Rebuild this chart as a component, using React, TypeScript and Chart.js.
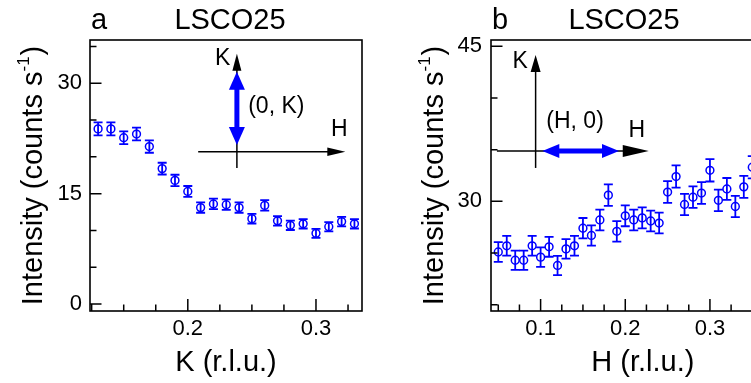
import React, { useEffect, useRef } from 'react';
import { Chart, registerables } from 'chart.js';

Chart.register(...registerables);

const FONT = '"Liberation Sans", Arial, Helvetica, sans-serif';
const BLUE = '#0000ff';

// ---------- Panel a : (0, K) cut ----------
const kValues = [0.13, 0.14, 0.15, 0.16, 0.17, 0.18, 0.19, 0.2, 0.21, 0.22, 0.23, 0.24, 0.25, 0.26, 0.27, 0.28, 0.29, 0.3, 0.31, 0.32, 0.33];
const intensityA = [23.8, 23.8, 22.6, 23.1, 21.4, 18.4, 16.8, 15.3, 13.1, 13.6, 13.5, 13.1, 11.6, 13.4, 11.3, 10.7, 10.9, 9.6, 10.5, 11.2, 10.9];
const errorA = [0.88, 0.88, 0.86, 0.87, 0.84, 0.8, 0.77, 0.74, 0.7, 0.71, 0.71, 0.7, 0.66, 0.71, 0.65, 0.64, 0.64, 0.6, 0.63, 0.65, 0.64];
const kTicks = [0.2, 0.3];
const kTickLabels = ['0.2', '0.3'];
const intensityTicksA = [0, 15, 30];
const intensityTickLabelsA = ['0', '15', '30'];

// ---------- Panel b : (H, 0) cut ----------
const hValues = [0.05, 0.06, 0.07, 0.08, 0.09, 0.1, 0.11, 0.12, 0.13, 0.14, 0.15, 0.16, 0.17, 0.18, 0.19, 0.2, 0.21, 0.22, 0.23, 0.24, 0.25, 0.26, 0.27, 0.28, 0.29, 0.3, 0.31, 0.32, 0.33, 0.34, 0.35];
const intensityB = [25.1, 25.7, 24.3, 24.3, 25.7, 24.6, 25.6, 23.8, 25.4, 25.7, 27.4, 26.7, 28.2, 30.6, 27.1, 28.6, 28.2, 28.4, 28.1, 27.9, 30.9, 32.4, 29.7, 30.4, 30.8, 33.0, 30.1, 31.2, 29.5, 31.4, 33.3];
const errorB = [0.95, 0.96, 0.94, 0.94, 0.96, 0.95, 0.96, 0.93, 0.95, 0.96, 0.99, 0.98, 1.0, 1.04, 0.99, 1.01, 1.0, 1.01, 1.0, 1.0, 1.05, 1.07, 1.03, 1.04, 1.05, 1.08, 1.04, 1.06, 1.03, 1.06, 1.08];
const hTicks = [0.1, 0.2, 0.3];
const hTickLabels = ['0.1', '0.2', '0.3'];
const intensityTicksB = [30, 45];
const intensityTickLabelsB = ['30', '45'];

type Arrow = { x0: number; y0: number; x1: number; y1: number; headLen: number; headHalf: number };
type Label = { text: string; x: number; y: number; align: CanvasTextAlign };
type Inset = {
  axisV: Arrow;
  axisH: Arrow;
  blue: { x0: number; y0: number; x1: number; y1: number; headLen: number; headHalf: number; width: number };
  labels: Label[];
};

type Panel = {
  letter: string;
  title: string;
  titleOffset: number;
  xTitle: string;
  xs: number[];
  ys: number[];
  errs: number[];
  xMin: number; xMax: number; yMin: number; yMax: number;
  xMajor: number[]; xLabels: string[];
  yMajor: number[]; yLabels: string[];
  xMinorStep: number; yMinorStep: number;
  left: number; width: number; yAxisWidth: number; padRight: number; yTickPad: number;
  inset: Inset;
};

const panels: Panel[] = [
  {
    letter: 'a', title: 'LSCO25', titleOffset: 140, xTitle: 'K (r.l.u.)',
    xs: kValues, ys: intensityA, errs: errorA,
    xMin: 0.1237, xMax: 0.3359, yMin: -0.95, yMax: 35.88,
    xMajor: kTicks, xLabels: kTickLabels, yMajor: intensityTicksA, yLabels: intensityTickLabelsA,
    xMinorStep: 0.025, yMinorStep: 5,
    left: 0, width: 375, yAxisWidth: 90, padRight: 13, yTickPad: 8,
    inset: {
      axisV: { x0: 0.2383, y0: 18.49, x1: 0.2383, y1: 34.0, headLen: 17, headHalf: 4.5 },
      axisH: { x0: 0.2081, y0: 20.7, x1: 0.3229, y1: 20.7, headLen: 18, headHalf: 4.2 },
      blue: { x0: 0.2383, y0: 21.61, x1: 0.2383, y1: 31.57, headLen: 18, headHalf: 8, width: 5 },
      labels: [
        { text: 'K', x: 0.2272, y: 33.3, align: 'center' },
        { text: '(0, K)', x: 0.2471, y: 26.78, align: 'left' },
        { text: 'H', x: 0.3182, y: 23.65, align: 'center' },
      ],
    },
  },
  {
    letter: 'b', title: 'LSCO25', titleOffset: 133, xTitle: 'H (r.l.u.)',
    xs: hValues, ys: intensityB, errs: errorB,
    xMin: 0.0414, xMax: 0.4, yMin: 19.39, yMax: 45.61,
    xMajor: hTicks, xLabels: hTickLabels, yMajor: intensityTicksB, yLabels: intensityTickLabelsB,
    xMinorStep: 0.025, yMinorStep: 5,
    left: 380, width: 420, yAxisWidth: 111, padRight: 3, yTickPad: 9,
    inset: {
      axisV: { x0: 0.0941, y0: 33.23, x1: 0.0941, y1: 44.16, headLen: 17, headHalf: 5 },
      axisH: { x0: 0.0484, y0: 34.87, x1: 0.2277, y1: 34.87, headLen: 26, headHalf: 6 },
      blue: { x0: 0.102, y0: 34.87, x1: 0.1926, y1: 34.87, headLen: 17, headHalf: 7, width: 5 },
      labels: [
        { text: 'K', x: 0.076, y: 43.5, align: 'center' },
        { text: '(H, 0)', x: 0.1067, y: 37.7, align: 'left' },
        { text: 'H', x: 0.2137, y: 36.85, align: 'center' },
      ],
    },
  },
];

function head(ctx: CanvasRenderingContext2D, tx: number, ty: number, dx: number, dy: number, len: number, half: number) {
  const n = Math.hypot(dx, dy) || 1;
  const ux = dx / n, uy = dy / n;
  const bx = tx - ux * len, by = ty - uy * len;
  ctx.beginPath();
  ctx.moveTo(tx, ty);
  ctx.lineTo(bx - uy * half, by + ux * half);
  ctx.lineTo(bx + uy * half, by - ux * half);
  ctx.closePath();
  ctx.fill();
}

function makeChart(canvas: HTMLCanvasElement, p: Panel) {
  const decor = {
    id: 'decor' + p.letter,
    beforeDatasetsDraw(chart: any) {
      const { ctx, chartArea: a } = chart;
      const xs = chart.scales.x, ys = chart.scales.y;
      // error bars
      ctx.save();
      ctx.beginPath();
      ctx.rect(a.left, a.top, a.right - a.left, a.bottom - a.top);
      ctx.clip();
      ctx.strokeStyle = BLUE;
      ctx.lineWidth = 1.8;
      p.xs.forEach((xv, i) => {
        const px = xs.getPixelForValue(xv);
        const yTop = ys.getPixelForValue(p.ys[i] + p.errs[i]);
        const yBot = ys.getPixelForValue(p.ys[i] - p.errs[i]);
        ctx.beginPath();
        ctx.moveTo(px, yTop); ctx.lineTo(px, yBot);
        ctx.moveTo(px - 4.5, yTop); ctx.lineTo(px + 4.5, yTop);
        ctx.moveTo(px - 4.5, yBot); ctx.lineTo(px + 4.5, yBot);
        ctx.stroke();
      });
      ctx.restore();
    },
    afterDatasetsDraw(chart: any) {
      const { ctx, chartArea: a } = chart;
      const xs = chart.scales.x, ys = chart.scales.y;
      const X = (v: number) => xs.getPixelForValue(v);
      const Y = (v: number) => ys.getPixelForValue(v);
      ctx.save();
      // frame
      ctx.strokeStyle = '#000';
      ctx.lineWidth = 1.6;
      ctx.strokeRect(a.left, a.top, a.right - a.left, a.bottom - a.top);
      // ticks (inward)
      ctx.lineWidth = 1.5;
      ctx.beginPath();
      const eps = 1e-6;
      for (let v = Math.ceil(p.xMin / p.xMinorStep) * p.xMinorStep; v <= p.xMax + eps; v += p.xMinorStep) {
        const major = p.xMajor.some((m) => Math.abs(m - v) < eps);
        const px = X(v);
        ctx.moveTo(px, a.bottom);
        ctx.lineTo(px, a.bottom - (major ? 12 : 6.5));
      }
      for (let v = Math.ceil(p.yMin / p.yMinorStep) * p.yMinorStep; v <= p.yMax + eps; v += p.yMinorStep) {
        const major = p.yMajor.some((m) => Math.abs(m - v) < eps);
        const py = Y(v);
        ctx.moveTo(a.left, py);
        ctx.lineTo(a.left + (major ? 11.5 : 6.5), py);
      }
      ctx.stroke();

      // inset sketch
      const ins = p.inset;
      ctx.fillStyle = '#000';
      ctx.lineWidth = 1.5;
      for (const ar of [ins.axisV, ins.axisH]) {
        const x0 = X(ar.x0), y0 = Y(ar.y0), x1 = X(ar.x1), y1 = Y(ar.y1);
        const n = Math.hypot(x1 - x0, y1 - y0);
        const ux = (x1 - x0) / n, uy = (y1 - y0) / n;
        ctx.beginPath();
        ctx.moveTo(x0, y0);
        ctx.lineTo(x1 - ux * ar.headLen * 0.8, y1 - uy * ar.headLen * 0.8);
        ctx.stroke();
        head(ctx, x1, y1, x1 - x0, y1 - y0, ar.headLen, ar.headHalf);
      }
      const b = ins.blue;
      const bx0 = X(b.x0), by0 = Y(b.y0), bx1 = X(b.x1), by1 = Y(b.y1);
      const bn = Math.hypot(bx1 - bx0, by1 - by0);
      const bux = (bx1 - bx0) / bn, buy = (by1 - by0) / bn;
      ctx.strokeStyle = BLUE;
      ctx.fillStyle = BLUE;
      ctx.lineWidth = b.width;
      ctx.beginPath();
      ctx.moveTo(bx0 + bux * b.headLen * 0.8, by0 + buy * b.headLen * 0.8);
      ctx.lineTo(bx1 - bux * b.headLen * 0.8, by1 - buy * b.headLen * 0.8);
      ctx.stroke();
      head(ctx, bx1, by1, bx1 - bx0, by1 - by0, b.headLen, b.headHalf);
      head(ctx, bx0, by0, bx0 - bx1, by0 - by1, b.headLen, b.headHalf);

      ctx.fillStyle = '#000';
      ctx.font = '23px ' + FONT;
      ctx.textBaseline = 'middle';
      for (const l of ins.labels) {
        ctx.textAlign = l.align;
        ctx.fillText(l.text, X(l.x), Y(l.y));
      }

      // panel letter and title
      ctx.font = '29px ' + FONT;
      ctx.textBaseline = 'alphabetic';
      ctx.textAlign = 'left';
      ctx.fillText(p.letter, a.left + 1, 28.5);
      ctx.textAlign = 'center';
      ctx.fillText(p.title, a.left + p.titleOffset, 28.5);

      // y-axis title with superscript
      const cx = a.left - 48.5;
      const cy = (a.top + a.bottom) / 2;
      ctx.translate(cx, cy);
      ctx.rotate(-Math.PI / 2);
      const main = 'Intensity (counts s';
      const sup = '-1';
      const close = ')';
      ctx.font = '29px ' + FONT;
      const wMain = ctx.measureText(main).width;
      const wClose = ctx.measureText(close).width;
      ctx.font = '17px ' + FONT;
      const wSup = ctx.measureText(sup).width;
      const total = wMain + wSup + wClose + 1;
      let x = -total / 2;
      ctx.textAlign = 'left';
      ctx.font = '29px ' + FONT;
      ctx.fillText(main, x, 0);
      x += wMain;
      ctx.font = '17px ' + FONT;
      ctx.fillText(sup, x, -13);
      x += wSup + 1;
      ctx.font = '29px ' + FONT;
      ctx.fillText(close, x, 0);
      ctx.restore();
    },
  };

  return new Chart(canvas, {
    type: 'scatter',
    data: {
      datasets: [
        {
          data: p.xs.map((x, i) => ({ x, y: p.ys[i] })),
          borderColor: BLUE,
          backgroundColor: 'rgba(0,0,0,0)',
          pointRadius: 3.9,
          pointHoverRadius: 3.9,
          pointBorderWidth: 1.5,
          showLine: false,
        },
      ],
    },
    options: {
      responsive: false,
      animation: false,
      events: [],
      layout: { padding: { top: 40, right: p.padRight, bottom: 0, left: 0 } },
      plugins: { legend: { display: false }, tooltip: { enabled: false }, title: { display: false } },
      scales: {
        x: {
          type: 'linear',
          min: p.xMin,
          max: p.xMax,
          grid: { display: false, drawTicks: false },
          border: { display: false },
          ticks: {
            padding: 5,
            color: '#000',
            font: { size: 22, family: FONT },
            maxRotation: 0,
            autoSkip: false,
            callback: (_v: any, i: number) => p.xLabels[i],
          },
          afterBuildTicks: (s: any) => {
            s.ticks = p.xMajor.map((value) => ({ value }));
          },
          afterFit: (s: any) => {
            s.height = 72;
          },
          title: {
            display: true,
            text: p.xTitle,
            color: '#000',
            font: { size: 29, family: FONT },
            padding: { top: 0, bottom: 2.6 },
          },
        },
        y: {
          type: 'linear',
          min: p.yMin,
          max: p.yMax,
          grid: { display: false, drawTicks: false },
          border: { display: false },
          ticks: {
            padding: p.yTickPad,
            color: '#000',
            font: { size: 22, family: FONT },
            autoSkip: false,
            callback: (_v: any, i: number) => p.yLabels[i],
          },
          afterBuildTicks: (s: any) => {
            s.ticks = p.yMajor.map((value) => ({ value }));
          },
          afterFit: (s: any) => {
            s.width = p.yAxisWidth;
          },
        },
      },
    },
    plugins: [decor],
  } as any);
}

function PanelCanvas({ panel }: { panel: Panel }) {
  const ref = useRef<HTMLCanvasElement | null>(null);
  useEffect(() => {
    if (!ref.current) return;
    const chart = makeChart(ref.current, panel);
    return () => chart.destroy();
  }, [panel]);
  return (
    <canvas
      ref={ref}
      width={panel.width}
      height={383}
      style={{ position: 'absolute', left: panel.left, top: 0, width: panel.width, height: 383 }}
    />
  );
}

export default function App() {
  return (
    <div
      style={{
        position: 'fixed',
        left: 0,
        top: 0,
        width: 751,
        height: 383,
        overflow: 'hidden',
        background: '#fff',
      }}
    >
      {panels.map((p) => (
        <PanelCanvas key={p.letter} panel={p} />
      ))}
    </div>
  );
}
